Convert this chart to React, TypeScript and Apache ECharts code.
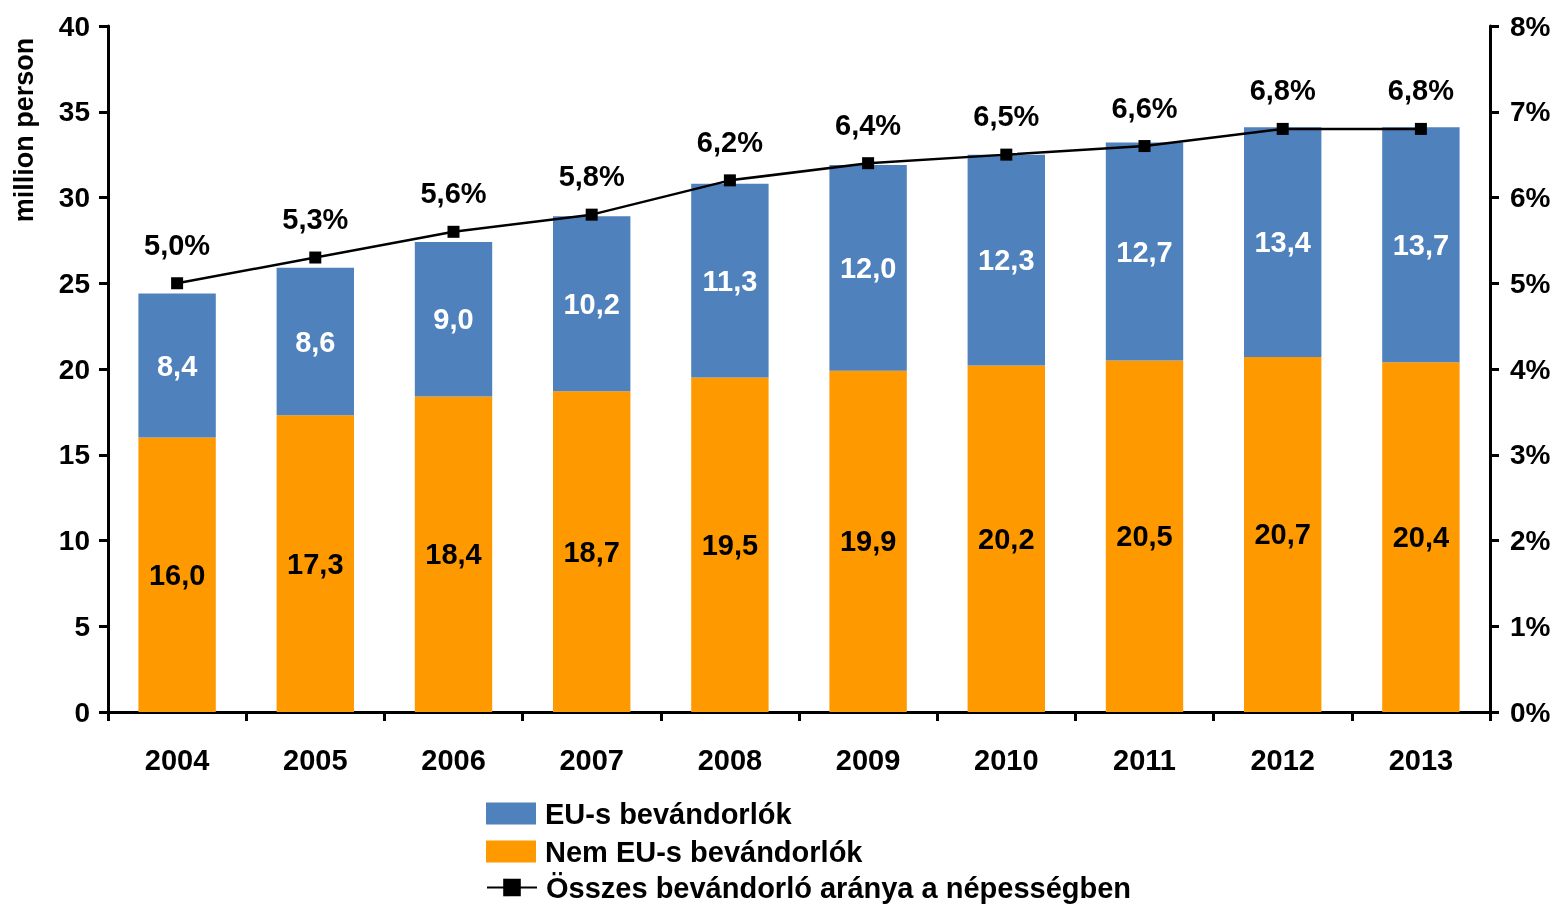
import React, { useEffect, useRef } from "react";
import * as echarts from "echarts";

const years = ["2004", "2005", "2006", "2007", "2008", "2009", "2010", "2011", "2012", "2013"];
const nonEu = [16.0, 17.3, 18.4, 18.7, 19.5, 19.9, 20.2, 20.5, 20.7, 20.4];
const eu = [8.4, 8.6, 9.0, 10.2, 11.3, 12.0, 12.3, 12.7, 13.4, 13.7];
const share = [5.0, 5.3, 5.6, 5.8, 6.2, 6.4, 6.5, 6.6, 6.8, 6.8];

const nameEu = "EU-s bevándorlók";
const nameNonEu = "Nem EU-s bevándorlók";
const nameShare = "Összes bevándorló aránya a népességben";

const FONT = "'Liberation Sans', Arial, sans-serif";
const fmt = (v: number) => v.toFixed(1).replace(".", ",");

export default function App() {
  const ref = useRef<HTMLDivElement>(null);
  useEffect(() => {
    const chart = echarts.init(ref.current!, null, { renderer: "svg" });
    const axisText = { color: "#000", fontSize: 28, fontWeight: "bold" as const, fontFamily: FONT };
    const legendBase = {
      orient: "vertical",
      left: 486,
      padding: 0,
      itemWidth: 50,
      itemHeight: 22,
      textStyle: { color: "#000", fontSize: 29, fontWeight: "bold", fontFamily: FONT, padding: [0, 0, 0, 4] },
    };
    chart.setOption({
      animation: false,
      grid: { left: 108, right: 69, top: 26, bottom: 192 },
      legend: [
        { ...legendBase, top: 799, data: [{ name: nameEu, icon: "rect" }] },
        { ...legendBase, top: 837, data: [{ name: nameNonEu, icon: "rect" }] },
        { ...legendBase, top: 873, data: [{ name: nameShare }] },
      ],
      graphic: [
        {
          type: "text",
          x: 24,
          y: 130,
          rotation: Math.PI / 2,
          style: {
            text: "million person",
            fill: "#000",
            fontSize: 27,
            fontWeight: "bold",
            fontFamily: FONT,
            align: "center",
            verticalAlign: "middle",
          },
        },
      ],
      xAxis: {
        type: "category",
        data: years,
        boundaryGap: true,
        axisLine: { lineStyle: { color: "#000", width: 3 } },
        axisTick: { show: true, alignWithLabel: false, length: 9, lineStyle: { color: "#000", width: 3 } },
        axisLabel: { ...axisText, fontSize: 29, margin: 33 },
      },
      yAxis: [
        {
          type: "value",
          min: 0,
          max: 40,
          interval: 5,
          splitLine: { show: false },
          axisLine: { show: true, lineStyle: { color: "#000", width: 3 } },
          axisTick: { show: true, length: 9, lineStyle: { color: "#000", width: 3 } },
          axisLabel: { ...axisText, margin: 18 },
        },
        {
          type: "value",
          min: 0,
          max: 8,
          interval: 1,
          position: "right",
          splitLine: { show: false },
          axisLine: { show: true, lineStyle: { color: "#000", width: 3 } },
          axisTick: { show: true, length: 9, lineStyle: { color: "#000", width: 3 } },
          axisLabel: { ...axisText, margin: 20, formatter: "{value}%" },
        },
      ],
      series: [
        {
          name: nameNonEu,
          type: "bar",
          stack: "total",
          data: nonEu,
          barWidth: "56%",
          itemStyle: { color: "#FF9900" },
          label: {
            show: true,
            position: "inside",
            formatter: (p: any) => fmt(p.value),
            color: "#000",
            fontSize: 29,
            fontWeight: "bold",
            fontFamily: FONT,
          },
        },
        {
          name: nameEu,
          type: "bar",
          stack: "total",
          data: eu,
          barWidth: "56%",
          itemStyle: { color: "#4F81BD" },
          label: {
            show: true,
            position: "inside",
            formatter: (p: any) => fmt(p.value),
            color: "#fff",
            fontSize: 29,
            fontWeight: "bold",
            fontFamily: FONT,
          },
        },
        {
          name: nameShare,
          type: "line",
          yAxisIndex: 1,
          data: share,
          z: 10,
          symbol: "rect",
          symbolSize: 12,
          lineStyle: { color: "#000", width: 2.5 },
          itemStyle: { color: "#000" },
          label: {
            show: true,
            position: "top",
            distance: 18,
            formatter: (p: any) => fmt(p.value) + "%",
            color: "#000",
            fontSize: 29,
            fontWeight: "bold",
            fontFamily: FONT,
          },
        },
      ],
    });
    return () => chart.dispose();
  }, []);
  return <div ref={ref} style={{ position: "fixed", left: 0, top: 0, width: 1559, height: 904 }} />;
}
